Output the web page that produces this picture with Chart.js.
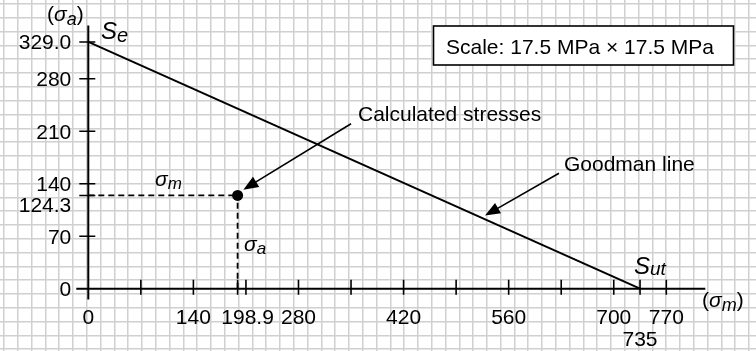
<!DOCTYPE html>
<html>
<head>
<meta charset="utf-8">
<script src="https://cdn.jsdelivr.net/npm/chart.js@4.4.1/dist/chart.umd.min.js"></script>
<style>
  html, body { margin: 0; padding: 0; background: #fff; }
</style>
</head>
<body>
<canvas id="goodman" width="756" height="351"></canvas>
<script>
// Goodman diagram, all stresses in MPa
const enduranceLimit = 329.0;    // S_e
const ultimateStrength = 735;    // S_ut
const meanStress = 198.9;        // sigma_m
const altStress = 124.3;         // sigma_a

const xTickValues = [70, 140, 198.9, 210, 280, 350, 420, 490, 560, 630, 700, 735, 770];
const yTickValues = [70, 124.3, 140, 210, 280, 329];
const xLabelValues = [0, 140, 198.9, 280, 420, 560, 700, 735, 770];
const xLabelTexts = ['0', '140', '198.9', '280', '420', '560', '700', '735', '770'];
const yLabelValues = [0, 70, 124.3, 140, 210, 280, 329];
const yLabelTexts = ['0', '70', '124.3', '140', '210', '280', '329.0'];

const FONT = '"Liberation Sans", Arial, Helvetica, sans-serif';

function range(a, b) {
  const out = [];
  for (let i = a; i <= b; i++) out.push({ value: i });
  return out;
}

// draw a run of text pieces (for subscripts), left to right
function drawRuns(ctx, x, y, runs) {
  ctx.textAlign = 'left';
  ctx.textBaseline = 'alphabetic';
  for (const r of runs) {
    ctx.font = r.font;
    ctx.fillText(r.t, x, y + (r.dy || 0));
    x += ctx.measureText(r.t).width + (r.gap || 0);
  }
}

function arrow(ctx, x1, y1, x2, y2) {
  const a = Math.atan2(y2 - y1, x2 - x1);
  const len = 15, half = 6;
  ctx.beginPath();
  ctx.moveTo(x1, y1);
  ctx.lineTo(x2 - Math.cos(a) * len * 0.8, y2 - Math.sin(a) * len * 0.8);
  ctx.lineWidth = 1.6;
  ctx.stroke();
  ctx.beginPath();
  ctx.moveTo(x2, y2);
  ctx.lineTo(x2 - Math.cos(a) * len - Math.sin(a) * half, y2 - Math.sin(a) * len + Math.cos(a) * half);
  ctx.lineTo(x2 - Math.cos(a) * len + Math.sin(a) * half, y2 - Math.sin(a) * len - Math.cos(a) * half);
  ctx.closePath();
  ctx.fill();
}

const diagram = {
  id: 'diagram',
  afterDatasetsDraw(chart) {
    const ctx = chart.ctx;
    const xs = chart.scales.x, ys = chart.scales.y;
    const px = v => xs.getPixelForValue(v);
    const py = v => ys.getPixelForValue(v);
    const ox = px(0), oy = py(0);

    ctx.save();
    ctx.strokeStyle = '#000';
    ctx.fillStyle = '#000';

    // axes
    ctx.lineWidth = 2;
    ctx.beginPath();
    ctx.moveTo(px(-16), oy);
    ctx.lineTo(px(822), oy);
    ctx.moveTo(ox, py(-14.5));
    ctx.lineTo(ox, py(351));
    ctx.stroke();

    // tick marks
    ctx.lineWidth = 1.6;
    ctx.beginPath();
    xTickValues.forEach(v => {
      ctx.moveTo(px(v), oy - 9);
      ctx.lineTo(px(v), oy + 6);
    });
    yTickValues.forEach(v => {
      ctx.moveTo(ox - 9, py(v));
      ctx.lineTo(ox + 7, py(v));
    });
    ctx.stroke();

    // tick labels
    ctx.font = '21px ' + FONT;
    ctx.textBaseline = 'alphabetic';
    ctx.textAlign = 'right';
    yLabelValues.forEach((v, i) => {
      const shift = v === altStress ? 9 : 0;
      ctx.fillText(yLabelTexts[i], ox - 17, py(v) + 7.5 + shift);
    });
    ctx.textAlign = 'center';
    xLabelValues.forEach((v, i) => {
      let dx = 0, dy = 0;
      if (v === meanStress) dx = 10;
      if (v === ultimateStrength) dy = 22;
      ctx.fillText(xLabelTexts[i], px(v) + dx, oy + 35 + dy);
    });

    // axis names
    const it = s => 'italic ' + s + 'px ' + FONT;
    const rm = s => s + 'px ' + FONT;
    drawRuns(ctx, 47, 21, [
      { t: '(', font: rm(21) },
      { t: 'σ', font: it(21) },
      { t: 'a', font: it(18), dy: 4 },
      { t: ')', font: rm(21) }
    ]);
    drawRuns(ctx, 702, 307, [
      { t: '(', font: rm(21) },
      { t: 'σ', font: it(21) },
      { t: 'm', font: it(18), dy: 4 },
      { t: ')', font: rm(21) }
    ]);

    // strength labels
    drawRuns(ctx, 101, 39, [
      { t: 'S', font: it(24) },
      { t: 'e', font: it(20), dy: 3 }
    ]);
    drawRuns(ctx, 634, 274, [
      { t: 'S', font: it(24) },
      { t: 'ut', font: it(19), dy: 1 }
    ]);

    // stress component labels
    drawRuns(ctx, 155, 186, [
      { t: 'σ', font: it(21) },
      { t: 'm', font: it(17), dy: 3 }
    ]);
    drawRuns(ctx, 244, 251, [
      { t: 'σ', font: it(21) },
      { t: 'a', font: it(17), dy: 3 }
    ]);

    // callouts
    ctx.font = rm(21);
    ctx.textAlign = 'left';
    ctx.fillText('Calculated stresses', 358, 121);
    ctx.fillText('Goodman line', 564, 171);
    arrow(ctx, px(350), py(220), px(206.5), py(132));
    arrow(ctx, px(627), py(154), px(528.5), py(97.5));

    // scale box
    ctx.fillStyle = '#fff';
    ctx.fillRect(433.5, 26, 300, 39);
    ctx.lineWidth = 1.6;
    ctx.strokeRect(433.5, 26, 300, 39);
    ctx.fillStyle = '#000';
    ctx.fillText('Scale: 17.5 MPa × 17.5 MPa', 446, 53.5);

    ctx.restore();
  }
};

const gridStyle = { color: '#d0d0d0', lineWidth: 1.5, drawTicks: false };

new Chart(document.getElementById('goodman'), {
  type: 'scatter',
  data: {
    datasets: [
      {
        label: 'Calculated stresses',
        data: [{ x: meanStress, y: altStress }],
        pointRadius: 5.5,
        pointBackgroundColor: '#000',
        pointBorderColor: '#000',
        pointBorderWidth: 0
      },
      {
        label: 'Goodman line',
        data: [{ x: 0, y: enduranceLimit }, { x: ultimateStrength, y: 0 }],
        showLine: true,
        borderColor: '#000',
        borderWidth: 2,
        pointRadius: 0
      },
      {
        label: 'sigma_m',
        data: [{ x: 0, y: altStress }, { x: meanStress, y: altStress }],
        showLine: true,
        borderColor: '#000',
        borderWidth: 1.8,
        borderDash: [6, 4],
        pointRadius: 0
      },
      {
        label: 'sigma_a',
        data: [{ x: meanStress, y: 0 }, { x: meanStress, y: altStress }],
        showLine: true,
        borderColor: '#000',
        borderWidth: 1.8,
        borderDash: [6, 4],
        pointRadius: 0
      }
    ]
  },
  options: {
    responsive: false,
    devicePixelRatio: 1,
    animation: false,
    events: [],
    layout: { padding: 0, autoPadding: false },
    plugins: { legend: { display: false }, tooltip: { enabled: false } },
    scales: {
      x: { type: 'linear', display: false, min: -117.63, max: 889.49 },
      y: { type: 'linear', display: false, min: -83.07, max: 384.93 },
      // graph paper squares
      gx: {
        type: 'linear', axis: 'x', position: 'bottom',
        min: -0.29, max: 54.51,
        ticks: { display: false },
        grid: gridStyle,
        border: { display: false },
        afterBuildTicks: s => { s.ticks = range(0, 54); }
      },
      gy: {
        type: 'linear', axis: 'y', position: 'left', reverse: true,
        min: -0.29, max: 25.13,
        ticks: { display: false },
        grid: gridStyle,
        border: { display: false },
        afterBuildTicks: s => { s.ticks = range(0, 25); }
      }
    }
  },
  plugins: [diagram]
});
</script>
</body>
</html>
